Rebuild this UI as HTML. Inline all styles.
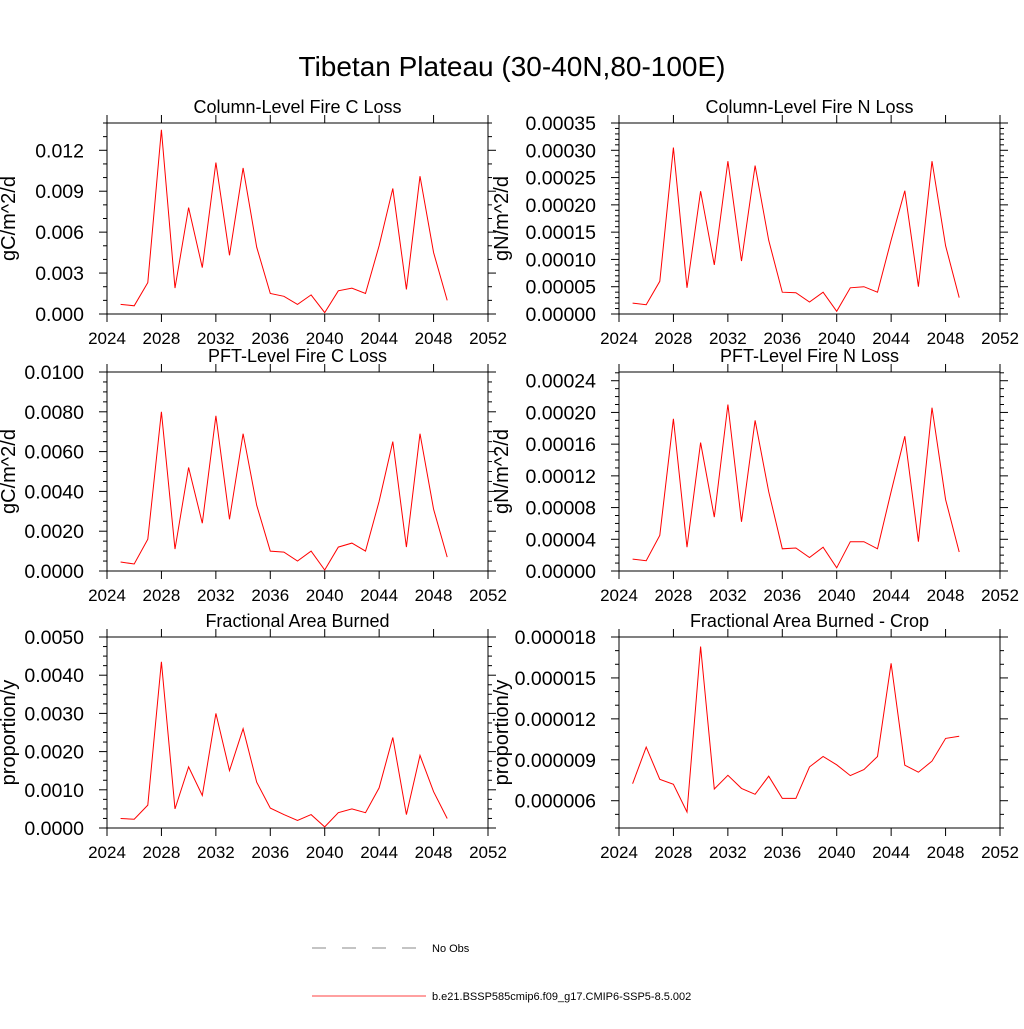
<!DOCTYPE html>
<html><head><meta charset="utf-8"><style>
body{margin:0;background:#fff;}
svg{font-family:"Liberation Sans",sans-serif;}
</style></head><body>
<svg id="chart" width="1024" height="1024" xmlns="http://www.w3.org/2000/svg">
<rect width="1024" height="1024" fill="#fff"/>
<text x="512" y="76" font-size="28" text-anchor="middle">Tibetan Plateau (30-40N,80-100E)</text>
<g>
<line x1="312" y1="948" x2="418" y2="948" stroke="#888" stroke-width="1" stroke-dasharray="14,16"/>
<text x="432" y="952" font-size="11">No Obs</text>
<line x1="312" y1="996" x2="426" y2="996" stroke="#f00" stroke-width="0.8"/>
<text x="432" y="1000" font-size="11">b.e21.BSSP585cmip6.f09_g17.CMIP6-SSP5-8.5.002</text>
</g>
</svg>
<script>
const years = [2025,2026,2027,2028,2029,2030,2031,2032,2033,2034,2035,2036,2037,2038,2039,2040,2041,2042,2043,2044,2045,2046,2047,2048,2049];
const xTicks = [2024,2028,2032,2036,2040,2044,2048,2052];
const colFireC = [0.0007,0.0006,0.0023,0.0135,0.0019,0.0078,0.0034,0.0111,0.0043,0.0107,0.0049,0.0015,0.0013,0.0007,0.0014,0.0001,0.0017,0.0019,0.0015,0.005,0.0092,0.0018,0.0101,0.0045,0.001];
const colFireN = [0.00002,0.000017,0.00006,0.000305,0.000048,0.000225,0.00009,0.00028,0.000097,0.000272,0.000135,0.00004,0.000039,0.000022,0.00004,0.000005,0.000048,0.00005,0.00004,0.000135,0.000226,0.00005,0.00028,0.000125,0.00003];
const pftFireC = [0.00045,0.00035,0.0016,0.0080,0.0011,0.0052,0.0024,0.0078,0.0026,0.0069,0.0033,0.001,0.00095,0.0005,0.001,0.00005,0.0012,0.0014,0.001,0.0035,0.0065,0.0012,0.0069,0.0031,0.0007];
const pftFireN = [0.000015,0.000013,0.000045,0.000192,0.00003,0.000162,0.000068,0.00021,0.000062,0.00019,0.0001,0.000028,0.000029,0.000017,0.00003,0.000004,0.000037,0.000037,0.000028,0.0001,0.00017,0.000037,0.000206,0.00009,0.000024];
const fracBurned = [0.00025,0.00023,0.0006,0.00435,0.0005,0.0016,0.00085,0.003,0.0015,0.0026,0.0012,0.00052,0.00035,0.0002,0.00035,0.00003,0.0004,0.0005,0.0004,0.00105,0.00237,0.00035,0.0019,0.00095,0.00025];
const fracBurnedCrop = [7.25e-6,9.93e-6,7.57e-6,7.2e-6,5.17e-6,17.3e-6,6.86e-6,7.86e-6,6.9e-6,6.47e-6,7.8e-6,6.17e-6,6.17e-6,8.48e-6,9.24e-6,8.63e-6,7.84e-6,8.28e-6,9.24e-6,16.07e-6,8.6e-6,8.09e-6,8.9e-6,10.57e-6,10.72e-6];
const ticks1 = ["0.000","0.003","0.006","0.009","0.012"];
const ticks2 = ["0.00000","0.00005","0.00010","0.00015","0.00020","0.00025","0.00030","0.00035"];
const ticks3 = ["0.0000","0.0020","0.0040","0.0060","0.0080","0.0100"];
const ticks4 = ["0.00000","0.00004","0.00008","0.00012","0.00016","0.00020","0.00024"];
const ticks5 = ["0.0000","0.0010","0.0020","0.0030","0.0040","0.0050"];
const ticks6 = ["0.000006","0.000009","0.000012","0.000015","0.000018"];

const panels = [
 {name:"column-fire-c",title:"Column-Level Fire C Loss",yt:"gC/m^2/d",x0:107,y0:123,y1:314,ymin:0,ymax:0.014,major:0.003,minor:0.001,data:colFireC,ticks:ticks1},
 {name:"column-fire-n",title:"Column-Level Fire N Loss",yt:"gN/m^2/d",x0:619,y0:123,y1:314,ymin:0,ymax:0.00035,major:0.00005,minor:0.00001,data:colFireN,ticks:ticks2},
 {name:"pft-fire-c",title:"PFT-Level Fire C Loss",yt:"gC/m^2/d",x0:107,y0:372,y1:571,ymin:0,ymax:0.01,major:0.002,minor:0.0005,data:pftFireC,ticks:ticks3},
 {name:"pft-fire-n",title:"PFT-Level Fire N Loss",yt:"gN/m^2/d",x0:619,y0:372,y1:571,ymin:0,ymax:0.000251,major:0.00004,minor:0.00001,data:pftFireN,ticks:ticks4},
 {name:"frac-burned",title:"Fractional Area Burned",yt:"proportion/y",x0:107,y0:637,y1:828,ymin:0,ymax:0.005,major:0.001,minor:0.00025,data:fracBurned,ticks:ticks5},
 {name:"frac-burned-crop",title:"Fractional Area Burned - Crop",yt:"proportion/y",x0:619,y0:637,y1:828,ymin:0.000004,ymax:0.000018,major:0.000003,minor:0.000001,data:fracBurnedCrop,ticks:ticks6,tstart:0.000006}
];
const svg=document.getElementById('chart');
const NS="http://www.w3.org/2000/svg";
function mk(tag,attrs,parent){const e=document.createElementNS(NS,tag);for(const k in attrs)e.setAttribute(k,attrs[k]);parent.appendChild(e);return e;}
panels.forEach(p=>{
 const W=381;
 const g=mk('g',{},svg);
 
 
 const xs=v=>p.x0+(v-2024)/28*W;
 const ys=v=>p.y1-(v-p.ymin)/(p.ymax-p.ymin)*(p.y1-p.y0);
 const t=mk('text',{x:p.x0+W/2,y:p.y0-10,'font-size':18,'text-anchor':'middle'},g);t.textContent=p.title;
 
 
 const fr=mk('rect',{x:p.x0,y:p.y0,width:W,height:p.y1-p.y0,fill:'none',stroke:'#000','stroke-width':1},g);
 
 
 xTicks.forEach(v=>{const x=xs(v);
  mk('line',{x1:x,y1:p.y1,x2:x,y2:p.y1+8,stroke:'#000'},g);
  mk('line',{x1:x,y1:p.y0,x2:x,y2:p.y0-8,stroke:'#000'},g);
  const l=mk('text',{x:x,y:p.y1+30,'font-size':17,'text-anchor':'middle'},g);l.textContent=v;
  
  
 });
 const n=Math.round((p.ymax-p.ymin)/p.minor+0.001);
 for(let i=0;i<=n;i++){const v=p.ymin+i*p.minor;if(v>p.ymax+1e-12)break;const y=ys(v);
  const ts=p.tstart!==undefined?p.tstart:p.ymin;
  const r=(v-ts)/p.major;const isMaj=Math.abs(r-Math.round(r))<1e-6&&v>=ts-1e-12;
  const len=isMaj?8:4;
  mk('line',{x1:p.x0,y1:y,x2:p.x0-len,y2:y,stroke:'#000'},g);
  mk('line',{x1:p.x0+W,y1:y,x2:p.x0+W+len,y2:y,stroke:'#000'},g);
 }
 p.ticks.forEach(s=>{const v=parseFloat(s);const y=ys(v);
  const l=mk('text',{x:p.x0-23,y:y+7,'font-size':19.5,'text-anchor':'end'},g);l.textContent=s;
  
  
 });
 const yx=p.x0<300?15:508;const yc=(p.y0+p.y1)/2;
 const yl=mk('text',{x:yx,y:yc,'font-size':20,'text-anchor':'middle',transform:'rotate(-90 '+yx+' '+yc+')'},g);yl.textContent=p.yt;
 
 
 const pts=p.data.map((v,i)=>xs(years[i]).toFixed(1)+','+ys(v).toFixed(1)).join(' ');
 const pl=mk('polyline',{points:pts,fill:'none',stroke:'#f00','stroke-width':1},g);
 
 
});
</script>
</body></html>
